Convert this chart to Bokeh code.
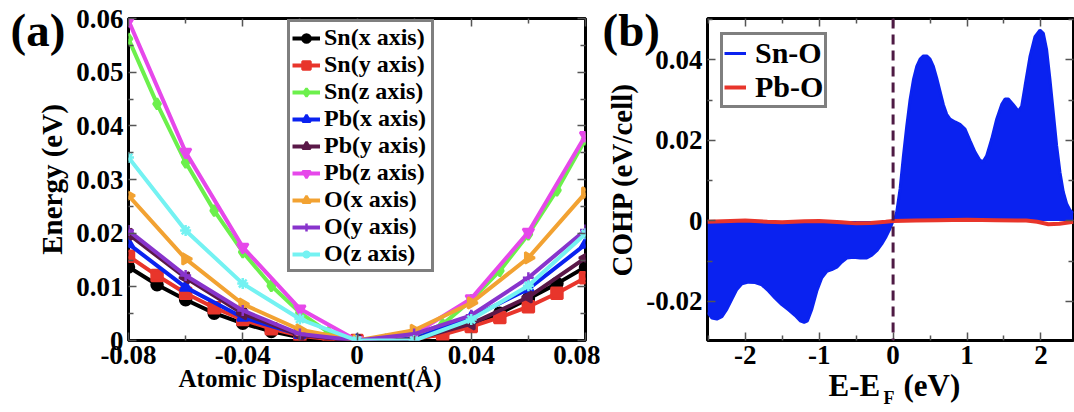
from bokeh.plotting import figure
from bokeh.layouts import row
from bokeh.models import (LinearAxis, FixedTicker, CustomJSTickFormatter, CustomLabelingPolicy,
                          Title, Legend, LegendItem, Span, Range1d)
from bokeh.embed import file_html
from bokeh.resources import INLINE

FONT = "Liberation Serif"

# ---------------- panel (a): energy vs. atomic displacement ----------------
disp_fine = [-0.08, -0.07, -0.06, -0.05, -0.04, -0.03, -0.02, -0.01, 0.0,
             0.01, 0.02, 0.03, 0.04, 0.05, 0.06, 0.07, 0.08]
disp_coarse = [-0.08, -0.06, -0.04, -0.02, 0.0, 0.02, 0.04, 0.06, 0.08]

sn_x = [0.0137, 0.0104, 0.0076, 0.0051, 0.0032, 0.0017, 0.0006, 0.0002, 0.0,
        0.0000, 0.0003, 0.0012, 0.0030, 0.0051, 0.0078, 0.0106, 0.0137]
sn_y = [0.0157, 0.0121, 0.0088, 0.0061, 0.0039, 0.0022, 0.0009, 0.0003, 0.0,
        -0.0003, 0.0003, 0.0011, 0.0026, 0.0043, 0.0063, 0.0088, 0.0117]
sn_z = [0.0562, 0.0441, 0.0332, 0.0242, 0.0165, 0.0102, 0.0052, 0.0015, 0.0,
        -0.0002, 0.0009, 0.0030, 0.0075, 0.0130, 0.0198, 0.0280, 0.0375]
pb_x = [0.0180, 0.0099, 0.0043, 0.0011, 0.0, 0.0003, 0.0043, 0.0096, 0.0179]
pb_y = [0.0198, 0.0117, 0.0050, 0.0010, 0.0, 0.0002, 0.0031, 0.0081, 0.0154]
pb_z = [0.0596, 0.0351, 0.0174, 0.0059, 0.0, 0.0012, 0.0078, 0.0202, 0.0382]
o_x = [0.0270, 0.0152, 0.0068, 0.0020, 0.0, 0.0019, 0.0070, 0.0154, 0.0275]
o_y = [0.0205, 0.0121, 0.0056, 0.0012, 0.0, 0.0012, 0.0047, 0.0117, 0.0206]
o_z = [0.0341, 0.0205, 0.0106, 0.0040, 0.0, 0.0000, 0.0039, 0.0102, 0.0199]

series_a = [
    # label, x, y, color, marker, marker angle
    ("Sn(x axis)", disp_fine, sn_x, "#000000", "circle", 0.0),
    ("Sn(y axis)", disp_fine, sn_y, "#e8352b", "square", 0.0),
    ("Sn(z axis)", disp_fine, sn_z, "#6cf04c", "diamond", 0.0),
    ("Pb(x axis)", disp_coarse, pb_x, "#0a22f0", "triangle", 0.0),
    ("Pb(y axis)", disp_coarse, pb_y, "#5a1848", "triangle", 1.5708),
    ("Pb(z axis)", disp_coarse, pb_z, "#e648ea", "inverted_triangle", 0.0),
    ("O(x axis)", disp_coarse, o_x, "#f2a232", "triangle", -1.5708),
    ("O(y axis)", disp_coarse, o_y, "#8834cc", "cross", 0.0),
    ("O(z axis)", disp_coarse, o_z, "#74f2f2", "asterisk", 0.0),
]

a_xticks = [-0.08, -0.04, 0.0, 0.04, 0.08]
a_xminor = [-0.06, -0.02, 0.02, 0.06]
a_yticks = [0.0, 0.01, 0.02, 0.03, 0.04, 0.05, 0.06]
a_yminor = [0.005, 0.015, 0.025, 0.035, 0.045, 0.055]

# ---------------- panel (b): COHP ----------------
e_sno = [-2.509, -2.45, -2.383, -2.315, -2.248, -2.18, -2.113, -2.045, -1.955, -1.865,
         -1.775, -1.685, -1.595, -1.505, -1.414, -1.324, -1.257, -1.203, -1.158, -1.099,
         -1.032, -0.964, -0.896, -0.829, -0.761, -0.694, -0.626, -0.536, -0.446, -0.356,
         -0.288, -0.221, -0.153, -0.095, -0.05, -0.014, 0.0,
         0.0, 0.018, 0.05, 0.095, 0.14, 0.185, 0.23, 0.275, 0.32, 0.365, 0.41, 0.455,
         0.5, 0.545, 0.59, 0.635, 0.68, 0.725, 0.77, 0.838, 0.905, 0.973, 1.041, 1.108,
         1.176, 1.221, 1.266, 1.333, 1.401, 1.468, 1.514, 1.559, 1.626, 1.694, 1.739,
         1.784, 1.851, 1.919, 1.986, 2.032, 2.077, 2.122, 2.167, 2.212, 2.257, 2.302,
         2.347, 2.392, 2.437]
cohp_sno = [-0.0227, -0.0241, -0.0244, -0.0238, -0.0219, -0.0194, -0.0170, -0.0156,
            -0.0152, -0.0153, -0.0159, -0.0174, -0.0192, -0.0208, -0.0221, -0.0235,
            -0.0248, -0.0252, -0.0248, -0.0219, -0.0174, -0.0141, -0.0125, -0.0121,
            -0.0115, -0.0102, -0.0092, -0.0090, -0.0092, -0.0092, -0.0085, -0.0074,
            -0.0057, -0.0039, -0.0022, -0.0006, 0.0,
            0.0, 0.0002, 0.0023, 0.0080, 0.0162, 0.0236, 0.0302, 0.0351, 0.0384, 0.0402,
            0.0410, 0.0410, 0.0402, 0.0384, 0.0355, 0.0322, 0.0289, 0.0265, 0.0253,
            0.0246, 0.0240, 0.0228, 0.0199, 0.0171, 0.0150, 0.0148, 0.0162, 0.0203,
            0.0253, 0.0289, 0.0303, 0.0303, 0.0289, 0.0273, 0.0285, 0.0335, 0.0408,
            0.0458, 0.0474, 0.0466, 0.0425, 0.0351, 0.0269, 0.0187, 0.0121, 0.0072,
            0.0043, 0.0027, 0.0019]

e_pbo = [-2.51, -2.2, -2.0, -1.7, -1.5, -1.2, -1.0, -0.7, -0.5, -0.3, -0.1,
         0.0, 0.3, 0.6, 1.0, 1.4, 1.8, 1.95, 2.1, 2.25, 2.44]
cohp_pbo = [-0.0002, 0.0, 0.0001, -0.0002, -0.0003, -0.0001, 0.0, -0.0003,
            -0.0006, -0.0005, -0.0002, 0.0, 0.0001, 0.0002, 0.0003, 0.0002,
            0.0001, -0.0002, -0.0008, -0.0007, -0.0002]

b_xticks = [-2, -1, 0, 1, 2]
b_xminor = [-2.5, -1.5, -0.5, 0.5, 1.5]
b_yticks = [-0.02, 0.0, 0.02, 0.04]
b_yminor = [-0.03, -0.01, 0.01, 0.03, 0.05]

FMT2 = CustomJSTickFormatter(code="return Math.abs(tick) < 1e-9 ? '0' : tick.toFixed(2);")
FMT0 = CustomJSTickFormatter(code="return Math.abs(tick) < 1e-9 ? '0' : tick.toFixed(0);")
NO_LABELS = CustomLabelingPolicy(code="for (const i of indices) { indices.unset(i) }\nreturn indices")


def style_axis(ax, ticks, minor, fmt, labels=True):
    ax.ticker = FixedTicker(ticks=ticks, minor_ticks=minor)
    ax.formatter = fmt
    ax.axis_line_color = None
    ax.major_tick_in = 8
    ax.major_tick_out = 0
    ax.minor_tick_in = 5
    ax.minor_tick_out = 0
    ax.major_tick_line_color = "#555555"
    ax.minor_tick_line_color = "#555555"
    ax.major_tick_line_width = 1.5
    ax.minor_tick_line_width = 1.5
    ax.major_label_text_font = FONT
    ax.major_label_text_font_style = "bold"
    ax.major_label_text_color = "black"
    if labels:
        ax.major_label_text_font_size = "27px"
        ax.major_label_standoff = 5
    else:
        ax.major_label_text_font_size = "0px"
        ax.major_label_standoff = 0
        ax.major_label_policy = NO_LABELS


def frame_setup(p, xt, xm, yt, ym, xfmt, yfmt):
    p.xgrid.visible = False
    p.ygrid.visible = False
    p.outline_line_color = "black"
    p.outline_line_width = 3
    p.background_fill_color = "white"
    p.border_fill_color = "white"
    style_axis(p.xaxis[0], xt, xm, xfmt)
    style_axis(p.yaxis[0], yt, ym, yfmt)
    top = LinearAxis()
    style_axis(top, xt, xm, xfmt, labels=False)
    right = LinearAxis()
    style_axis(right, yt, ym, yfmt, labels=False)
    p.add_layout(top, "above")
    p.add_layout(right, "right")


def y_title(p, text):
    ax = p.yaxis[0]
    ax.axis_label = text
    ax.axis_label_text_font = FONT
    ax.axis_label_text_font_style = "bold"
    ax.axis_label_text_font_size = "29px"
    ax.axis_label_text_color = "black"
    ax.axis_label_standoff = 5


def panel_tag(p, text, offset):
    t = p.title
    t.text = text
    t.align = "left"
    t.vertical_align = "bottom"
    t.offset = offset
    t.standoff = -74
    t.text_font = FONT
    t.text_font_style = "bold"
    t.text_font_size = "47px"
    t.text_color = "black"


def below_text(p, text, offset, size, standoff, valign="middle"):
    p.add_layout(Title(text=text, align="left", vertical_align=valign, offset=offset,
                       standoff=standoff, text_font=FONT, text_font_style="bold",
                       text_font_size=size, text_color="black"), "below")


# ---- panel (a)
pa = figure(width=600, height=412, x_range=Range1d(-0.08, 0.08), y_range=Range1d(0, 0.06),
            output_backend="svg", toolbar_location=None,
            min_border_left=128, min_border_right=15, min_border_top=18, min_border_bottom=72)
frame_setup(pa, a_xticks, a_xminor, a_yticks, a_yminor, FMT2, FMT2)
y_title(pa, "Energy (eV)")

items_a = []
for label, xs, ys, color, marker, ang in series_a:
    ln = pa.line(xs, ys, line_color=color, line_width=4)
    sc = pa.scatter(xs, ys, marker=marker, angle=ang, size=11, fill_color=color,
                    line_color=color, line_width=2.5)
    items_a.append(LegendItem(label=label, renderers=[ln, sc]))

leg_a = Legend(items=items_a, location=(159, 68), orientation="vertical",
               border_line_color="black", border_line_width=3, background_fill_color="white",
               background_fill_alpha=1.0, label_text_font=FONT, label_text_font_style="bold",
               label_text_font_size="24px", label_text_color="black", label_standoff=4,
               glyph_width=28, glyph_height=20, label_height=20, label_width=105,
               spacing=-1, padding=2, margin=0)
pa.add_layout(leg_a, "center")

panel_tag(pa, "(a)", -118)
below_text(pa, "Atomic Displacement(Å)", 50, "25px", -6)

# ---- panel (b)
pb = figure(width=474, height=412, x_range=Range1d(-2.51, 2.44), y_range=Range1d(-0.0297, 0.0503),
            output_backend="svg", toolbar_location=None,
            min_border_left=107, min_border_right=1, min_border_top=15, min_border_bottom=72)
frame_setup(pb, b_xticks, b_xminor, b_yticks, b_yminor, FMT0, FMT2)
y_title(pb, "COHP (eV/cell)")

pb.varea(x=e_sno, y1=0, y2=cohp_sno, fill_color="#0a22f0")
sno_line = pb.line(e_sno, cohp_sno, line_color="#0a22f0", line_width=3)
pbo_line = pb.line(e_pbo, cohp_pbo, line_color="#e8352b", line_width=4)
pb.add_layout(Span(location=0, dimension="height", line_color="#4e1a44",
                   line_width=3, line_dash="10 6"))

leg_b = Legend(items=[LegendItem(label="Sn-O", renderers=[sno_line]),
                      LegendItem(label="Pb-O", renderers=[pbo_line])],
               location=(13, 232), border_line_color="black", border_line_width=3,
               background_fill_color="white", background_fill_alpha=1.0,
               label_text_font=FONT, label_text_font_style="bold", label_text_font_size="30px",
               label_text_color="black", label_standoff=9, glyph_width=22, glyph_height=20,
               label_height=20, spacing=0, padding=1, margin=0)
pb.add_layout(leg_b, "center")

panel_tag(pb, "(b)", -105)
below_text(pb, "E-E\u00a0\u00a0\u00a0(eV)", 121, "31px", 1)
below_text(pb, "F", 176, "18px", -34, valign="top")

layout = row(pa, pb, spacing=0)
open("out.html", "w").write(file_html(layout, INLINE))
